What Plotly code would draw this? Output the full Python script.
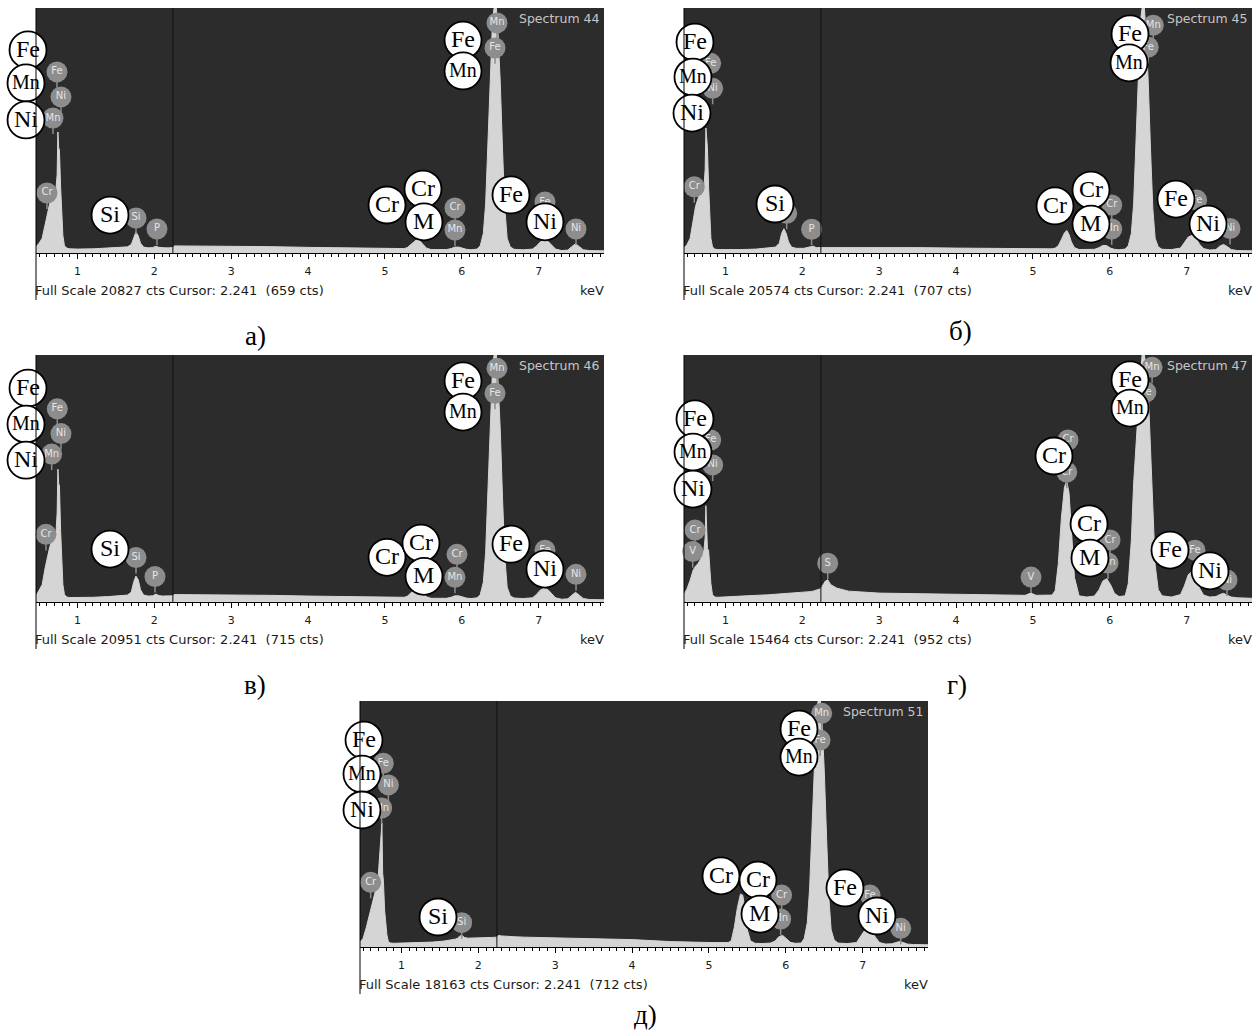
import plotly.graph_objects as go

# ---------------- data ----------------
# common energy grid (keV)
energy_keV = [
    0.46, 0.50, 0.54, 0.58, 0.61, 0.64, 0.67, 0.70, 0.72, 0.735, 0.745, 0.755, 0.765, 0.78, 0.795, 0.81, 0.83, 0.86, 0.90,
    1.00, 1.20, 1.40, 1.55, 1.65, 1.70, 1.73, 1.76, 1.79, 1.82, 1.86, 1.92, 1.98, 2.02, 2.06, 2.10, 2.14, 2.18, 2.24,
    2.26, 2.30, 2.33, 2.37, 2.45, 2.60, 3.00, 3.50, 4.00, 4.50, 4.90, 4.97, 5.04,
    5.25, 5.29, 5.33, 5.37, 5.41, 5.44, 5.47, 5.50, 5.54, 5.60, 5.70, 5.80, 5.86, 5.91, 5.96, 6.01, 6.06, 6.12,
    6.20, 6.24, 6.28, 6.31, 6.34, 6.37, 6.40, 6.42, 6.45, 6.47, 6.50, 6.53, 6.56, 6.59, 6.63, 6.68, 6.80,
    6.92, 6.97, 7.02, 7.07, 7.12, 7.17, 7.22, 7.30, 7.38, 7.43, 7.48, 7.53, 7.58, 7.66, 7.85,
]

# intensities in % of full scale
pct_a = [
    2.5, 4, 6, 12, 17, 20.5, 23, 24.5, 26, 32, 49.4, 43, 41.9, 27, 16, 7, 3, 2, 1.7,
    1.6, 1.7, 2.0, 2.2, 2.5, 3.5, 6.5, 8.6, 7, 4, 2.4, 2.1, 2.2, 2.8, 2.3, 2.1, 2.1, 2.1, 2.2,
    2.9, 2.9, 2.9, 2.8, 2.8, 2.8, 2.7, 2.6, 2.3, 2.0, 1.9, 1.9, 1.8,
    1.8, 2.2, 3.2, 4.5, 5.4, 5.4, 4.5, 3.2, 2.0, 1.4, 1.3, 1.4, 1.8, 2.4, 2.4, 1.9, 1.5, 1.3,
    1.6, 3, 8, 20, 45, 72, 95, 100, 100, 90, 70, 42, 18, 6, 2.5, 1.5, 1.3,
    1.6, 2.8, 4.5, 5.4, 4.8, 3, 1.6, 1.0, 1.2, 2.6, 3.8, 2.6, 1.3, 1.0, 0.9,
]
pct_b = [
    2, 3.5, 6, 13, 19, 22, 25, 27, 27, 34, 51, 45, 43, 27, 15, 6, 2.5, 1.6, 1.4,
    1.3, 1.4, 1.6, 1.9, 2.4, 4, 8, 9.9, 8, 4.5, 2.4, 1.9, 1.8, 1.9, 2.2, 2.6, 2.8, 2.2, 2.2,
    2.4, 2.4, 2.4, 2.4, 2.4, 2.3, 2.3, 2.2, 2.0, 1.8, 1.7, 1.7, 1.7,
    1.7, 2.0, 3.0, 5.5, 8.2, 9.2, 7.5, 4.5, 2.2, 1.4, 1.3, 1.5, 2.2, 3.1, 3.0, 2.0, 1.5, 1.3,
    1.6, 3, 8, 20, 45, 72, 95, 100, 100, 90, 70, 42, 18, 6, 2.5, 1.5, 1.4,
    2, 4, 6.5, 7.2, 6, 3.5, 1.8, 1.2, 1.4, 2.8, 3.5, 2.6, 1.4, 1.0, 0.9,
]
pct_v = [
    2.5, 4.5, 7, 14, 19, 22.5, 25, 27, 28, 36, 53.8, 48, 47, 29, 17, 7, 3, 2, 1.8,
    1.8, 1.9, 2.2, 2.4, 2.8, 4, 8, 10.5, 9, 5, 2.8, 2.4, 2.5, 3.2, 2.6, 2.4, 2.4, 2.4, 2.5,
    3.0, 3.0, 3.0, 3.0, 2.9, 2.9, 2.8, 2.7, 2.4, 2.1, 2.0, 2.0, 1.9,
    1.9, 2.3, 3.4, 4.8, 5.8, 5.8, 4.8, 3.4, 2.1, 1.5, 1.4, 1.5, 1.9, 2.5, 2.5, 2.0, 1.6, 1.4,
    1.7, 3, 8, 20, 45, 72, 95, 100, 100, 90, 70, 42, 18, 6, 2.5, 1.6, 1.4,
    1.7, 3, 4.8, 5.6, 5, 3.2, 1.7, 1.1, 1.3, 2.7, 3.9, 2.7, 1.4, 1.0, 0.9,
]
pct_g = [
    3, 5.4, 8.8, 13, 14.5, 15.5, 17, 19.5, 21, 26, 39, 30, 21.6, 21, 14, 7.4, 3, 2, 1.9,
    2.0, 2.3, 2.7, 2.9, 3.1, 3.2, 3.3, 3.3, 3.4, 3.4, 3.5, 3.6, 3.8, 3.9, 4.0, 4.2, 4.4, 4.8, 5.4,
    6.5, 8.5, 9, 7, 5.6, 4.4, 3.6, 3.4, 3.1, 2.8, 2.7, 3.6, 2.7,
    2.8, 4.7, 15.5, 34, 46.5, 49, 44, 30, 10, 2.5, 2.0, 2.4, 5, 8.5, 9.4, 7, 3.5, 2.2,
    2.5, 7.4, 25, 48, 65, 78, 92, 100, 100, 96, 85, 60, 33, 15, 5, 2.5, 2.0,
    3, 6.5, 11, 12.5, 10, 5.5, 2.8, 2.0, 2.2, 3, 3.5, 2.7, 2, 1.7, 1.5,
]
pct_d = [
    2, 3.5, 7.7, 12.5, 16.5, 20, 24, 30, 41, 45, 50.4, 30, 26.7, 15, 9, 5, 2, 1.6, 1.5,
    1.6, 1.7, 2.0, 2.4, 2.8, 3.2, 3.6, 4.5, 4.6, 3.9, 3.6, 3.6, 3.7, 3.8, 3.8, 3.9, 3.9, 3.9, 4.0,
    4.7, 4.5, 4.4, 4.3, 4.2, 4.0, 3.7, 3.4, 3.0, 2.2, 1.8, 1.8, 1.8,
    1.8, 2.5, 8, 16, 21.5, 21, 15, 7, 2.5, 1.5, 1.4, 1.6, 2.4, 4.2, 4.7, 3.2, 1.9, 1.5,
    1.6, 3.5, 10, 24, 48, 74, 95, 100, 100, 92, 72, 45, 20, 7, 2.8, 1.6, 1.4,
    1.8, 4, 6.5, 7.5, 6.5, 3.8, 1.8, 1.2, 1.3, 1.8, 2.2, 1.8, 1.2, 1.0, 0.9,
]

full_scale_cts = [20827, 20574, 20951, 15464, 18163]
cursor_keV = 2.241
cursor_cts = [659, 707, 715, 952, 712]
spectrum_names = ["Spectrum 44", "Spectrum 45", "Spectrum 46", "Spectrum 47", "Spectrum 51"]
panel_letters = ["а)", "б)", "в)", "г)", "д)"]
tick_values = [1, 2, 3, 4, 5, 6, 7]

# element labels: (text, keV, % of full scale); "" = marker hidden behind a white label
white_a = [("Fe", 0.356, 82.9), ("Mn", 0.33, 69.4), ("Ni", 0.33, 54.3), ("Si", 1.423, 15.5),
           ("Fe", 6.016, 86.9), ("Mn", 6.016, 74.3), ("Cr", 5.027, 19.6), ("Cr", 5.495, 26.1),
           ("M", 5.508, 12.7), ("Fe", 6.64, 23.7), ("Ni", 7.082, 12.7)]
gray_a = [("Fe", 0.733, 73.9), ("Ni", 0.785, 63.7), ("Mn", 0.681, 55.1), ("Cr", 0.603, 24.5),
          ("Si", 1.761, 14.3), ("P", 2.034, 9.8), ("Mn", 6.458, 93.9), ("Fe", 6.432, 83.7),
          ("Cr", 5.911, 18.4), ("Mn", 5.911, 9.4), ("Fe", 7.082, 20.8), ("Ni", 7.486, 9.8)]

white_b = [("Fe", 0.603, 86.1), ("Mn", 0.577, 71.8), ("Ni", 0.564, 57.1), ("Si", 1.644, 20.0),
           ("Fe", 6.263, 89.4), ("Mn", 6.25, 77.6), ("Cr", 5.287, 19.2), ("Cr", 5.755, 25.7),
           ("M", 5.755, 11.8), ("Fe", 6.861, 22.0), ("Ni", 7.278, 11.8)]
gray_b = [("Fe", 0.807, 77.4), ("Ni", 0.833, 67.2), ("Cr", 0.594, 27.0), ("", 1.796, 16.2),
          ("P", 2.12, 9.7), ("Mn", 6.566, 93.0), ("Fe", 6.50, 84.0), ("Cr", 6.025, 19.6),
          ("Mn", 6.025, 9.8), ("Fe", 7.13, 21.6), ("Ni", 7.564, 10.0)]

white_v = [("Fe", 0.356, 86.6), ("Mn", 0.33, 72.0), ("Ni", 0.33, 57.4), ("Si", 1.423, 21.4),
           ("Fe", 6.016, 89.5), ("Mn", 6.016, 76.9), ("Cr", 5.027, 18.1), ("Cr", 5.469, 23.8),
           ("M", 5.508, 10.4), ("Fe", 6.64, 23.4), ("Ni", 7.082, 13.3)]
gray_v = [("Fe", 0.737, 78.2), ("Ni", 0.785, 68.2), ("Mn", 0.664, 59.9), ("Cr", 0.59, 27.4),
          ("Si", 1.761, 18.0), ("P", 2.008, 10.3), ("Mn", 6.458, 94.6), ("Fe", 6.432, 84.5),
          ("Cr", 5.937, 19.3), ("Mn", 5.911, 10.0), ("Fe", 7.082, 21.0), ("Ni", 7.486, 11.2)]

white_g = [("Fe", 0.603, 74.1), ("Mn", 0.577, 60.7), ("Ni", 0.577, 45.7), ("Fe", 6.263, 89.9),
           ("Mn", 6.263, 78.5), ("Cr", 5.274, 59.1), ("Cr", 5.73, 31.6), ("M", 5.742, 17.8),
           ("Fe", 6.783, 21.0), ("Ni", 7.304, 12.6)]
gray_g = [("Fe", 0.807, 65.6), ("Ni", 0.833, 55.5), ("Cr", 0.603, 29.1), ("V", 0.573, 20.4),
          ("S", 2.33, 15.7), ("V", 4.975, 10.1), ("Cr", 5.456, 65.6), ("Cr", 5.44, 52.6),
          ("Mn", 6.55, 95.0), ("Fe", 6.47, 85.0), ("Cr", 6.003, 25.1), ("Mn", 5.977, 15.8),
          ("Fe", 7.108, 21.0), ("Ni", 7.525, 8.9)]

white_d = [("Fe", 0.512, 84.1), ("Mn", 0.486, 70.3), ("Ni", 0.486, 55.7), ("Si", 1.475, 12.2),
           ("Fe", 6.172, 88.6), ("Mn", 6.172, 77.2), ("Cr", 5.157, 28.9), ("Cr", 5.638, 27.2),
           ("M", 5.664, 13.4), ("Fe", 6.77, 24.0), ("Ni", 7.186, 12.6)]
gray_d = [("Fe", 0.763, 74.7), ("Ni", 0.829, 65.9), ("Mn", 0.742, 56.5), ("Cr", 0.599, 26.3),
          ("Si", 1.783, 9.9), ("Mn", 6.467, 95.0), ("Fe", 6.446, 84.1), ("Cr", 5.946, 21.1),
          ("Mn", 5.933, 11.4), ("Fe", 7.096, 21.1), ("Ni", 7.495, 7.6)]

# ---------------- layout / styling ----------------
W, H = 1257, 1033
panel_rects = [(36, 8, 604, 253), (684, 8, 1252, 253), (36, 355, 604, 602),
               (684, 355, 1252, 602), (360, 701, 928, 947)]
letter_pos = [(255, 336), (960, 331), (255, 685), (957, 685), (645, 1015)]
x_range = [0.46, 7.85]

BG = "#2c2c2c"
FILL = "#d5d5d5"
GRAY = "#8d8d8d"
SANS = "DejaVu Sans"
SERIF = "Liberation Serif"
R_WHITE = 18.5

panels = [
    (pct_a, white_a, gray_a), (pct_b, white_b, gray_b), (pct_v, white_v, gray_v),
    (pct_g, white_g, gray_g), (pct_d, white_d, gray_d),
]


def x_dom(e):
    """keV -> fraction of the x-axis domain (same linear scale as the axis)."""
    return (e - x_range[0]) / (x_range[1] - x_range[0])


fig = go.Figure()
shapes, annotations = [], []
layout_axes = {}

for i, (pct, whites, grays) in enumerate(panels):
    n = i + 1
    xa = "x" if n == 1 else f"x{n}"
    ya = "y" if n == 1 else f"y{n}"
    fs = full_scale_cts[i]
    l, t, r, b = panel_rects[i]
    hpx = b - t

    counts = [p * fs / 100.0 for p in pct]
    fig.add_trace(go.Scatter(
        x=energy_keV, y=counts, mode="lines", fill="tozeroy", fillcolor=FILL,
        line=dict(color=FILL, width=1), xaxis=xa, yaxis=ya, hoverinfo="skip", showlegend=False))

    # stems of the software element markers
    sx, sy = [], []
    for _, e, p in grays:
        sx += [e, e, None]
        sy += [p * fs / 100.0, (p - 6.5) * fs / 100.0, None]
    fig.add_trace(go.Scatter(
        x=sx, y=sy, mode="lines", line=dict(color=GRAY, width=1.5),
        xaxis=xa, yaxis=ya, hoverinfo="skip", showlegend=False, cliponaxis=False))

    fig.add_trace(go.Scatter(
        x=[g[1] for g in grays], y=[g[2] * fs / 100.0 for g in grays], text=[g[0] for g in grays],
        mode="markers+text", textposition="middle center",
        marker=dict(size=21, color=GRAY, line=dict(width=0)),
        textfont=dict(family=SANS, size=10, color="#e6e6e6"),
        xaxis=xa, yaxis=ya, hoverinfo="skip", showlegend=False, cliponaxis=False))

    # white hand-added element circles (shapes + text, may extend beyond the plot area)
    for txt, e, p in whites:
        shapes.append(dict(
            type="circle", xref=f"{xa} domain", yref=f"{ya} domain",
            xsizemode="pixel", ysizemode="pixel", xanchor=x_dom(e), yanchor=p / 100.0,
            x0=-R_WHITE, x1=R_WHITE, y0=-R_WHITE, y1=R_WHITE,
            fillcolor="white", line=dict(color="black", width=1.8), layer="above"))
        annotations.append(dict(
            xref=f"{xa} domain", yref=f"{ya} domain", x=x_dom(e), y=p / 100.0,
            xanchor="center", yanchor="middle", showarrow=False, text=txt, yshift=1,
            font=dict(family=SERIF, size=20 if txt == "Mn" else 24, color="black")))

    xkey = "xaxis" if n == 1 else f"xaxis{n}"
    ykey = "yaxis" if n == 1 else f"yaxis{n}"
    layout_axes[xkey] = dict(
        domain=[l / W, r / W], anchor=ya, range=x_range, tickmode="array", tickvals=tick_values,
        ticktext=[str(v) for v in tick_values],
        showline=True, linecolor="black", linewidth=1, ticks="outside", ticklen=5, tickwidth=1,
        tickcolor="black", showgrid=False, zeroline=False, ticklabelstandoff=3,
        tickfont=dict(family=SANS, size=11, color="#1a1a1a"),
        minor=dict(dtick=0.1, tick0=0, ticks="outside", ticklen=3, tickcolor="black", tickwidth=1, showgrid=False),
        fixedrange=True)
    layout_axes[ykey] = dict(
        domain=[1 - b / H, 1 - t / H], anchor=xa, range=[0, fs], visible=False,
        showgrid=False, zeroline=False, fixedrange=True)

    # cursor line
    shapes.append(dict(type="line", xref=xa, yref=f"{ya} domain", x0=cursor_keV, x1=cursor_keV,
                       y0=0, y1=1, line=dict(color="#121212", width=1), layer="above"))
    # left frame line extending under the axis
    shapes.append(dict(type="line", xref=f"{xa} domain", yref=f"{ya} domain", x0=0, x1=0,
                       y0=-47 / hpx, y1=1, line=dict(color="black", width=1)))

    annotations.append(dict(
        xref=f"{xa} domain", yref=f"{ya} domain", x=0, y=-37 / hpx, xanchor="left", yanchor="middle",
        xshift=-3, showarrow=False,
        text=f"Full Scale {fs} cts Cursor: {cursor_keV:.3f} \u00a0({cursor_cts[i]} cts)",
        font=dict(family=SANS, size=13, color="#1a1a1a")))
    annotations.append(dict(
        xref=f"{xa} domain", yref=f"{ya} domain", x=1, y=-37 / hpx, xanchor="right", yanchor="middle",
        xshift=2, showarrow=False, text="keV", font=dict(family=SANS, size=13, color="#1a1a1a")))
    annotations.append(dict(
        xref=f"{xa} domain", yref=f"{ya} domain", x=1, y=1, xanchor="right", yanchor="top",
        xshift=-3, yshift=-1, showarrow=False, text=spectrum_names[i],
        font=dict(family=SANS, size=12.5, color="#c6c6c6")))
    lx, ly = letter_pos[i]
    annotations.append(dict(
        xref="paper", yref="paper", x=lx / W, y=1 - ly / H, xanchor="center", yanchor="middle",
        showarrow=False, text=panel_letters[i], font=dict(family=SERIF, size=27, color="black")))

fig.update_layout(
    width=W, height=H, margin=dict(l=0, r=0, t=0, b=0),
    paper_bgcolor="white", plot_bgcolor=BG, showlegend=False,
    shapes=shapes, annotations=annotations, **layout_axes)

fig.write_html("out.html", config={"displayModeBar": False, "staticPlot": True},
               post_script="document.body.style.margin='0';")
